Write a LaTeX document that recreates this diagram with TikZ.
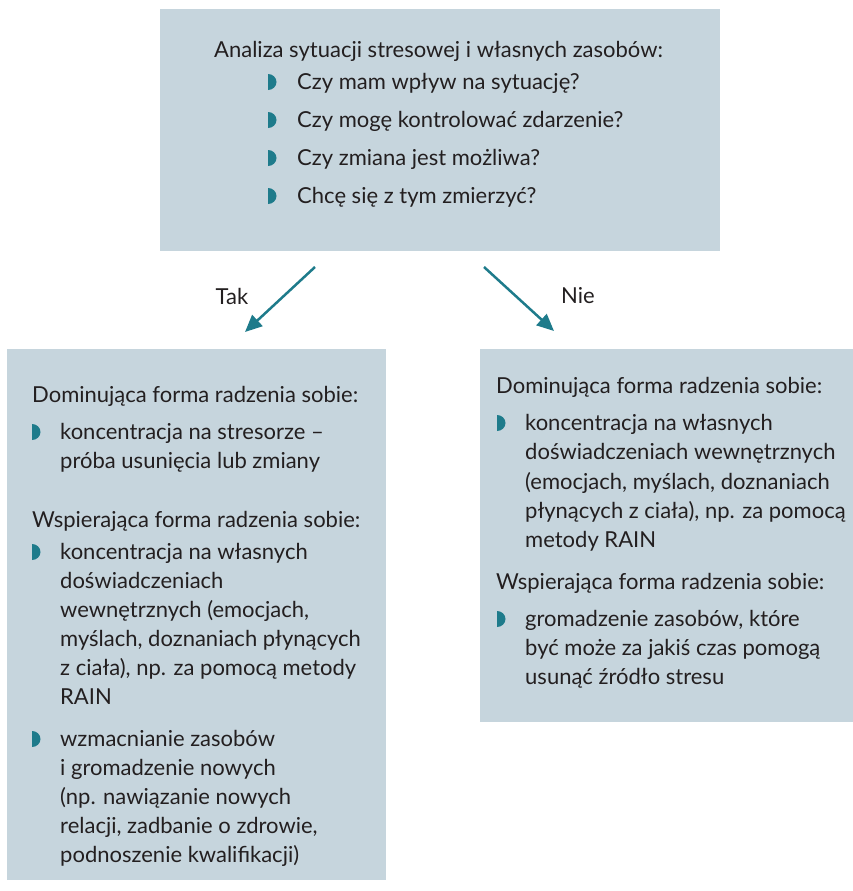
\documentclass[tikz,border=0pt]{standalone}
\usepackage{fontspec}
\setmainfont{Lato}
\usetikzlibrary{arrows.meta}
\definecolor{boxfill}{HTML}{C6D5DD}
\definecolor{tealc}{HTML}{1E7B8B}
\definecolor{txt}{HTML}{231F20}
\begin{document}
\begin{tikzpicture}[x=1pt,y=-1pt,
  box/.style={fill=boxfill, draw=none, inner sep=0, anchor=north west},
  ln/.style={anchor=base west, inner sep=0, font=\fontsize{22}{26}\selectfont, text=txt},
  lbl/.style={inner sep=0, font=\fontsize{22}{26}\selectfont, text=txt},
  conn/.style={draw=tealc, line width=2.5pt, -{Triangle[length=17pt,width=15pt]}},
  dbullet/.pic={\fill[tealc] (0,-8) -- (0,8) arc[start angle=90,end angle=-90,x radius=8.5,y radius=8] -- cycle;}]
\useasboundingbox (0,0) rectangle (853,891);
% boxes
\node[box, minimum width=560pt, minimum height=242pt] (top) at (160,9) {};
\node[box, minimum width=379pt, minimum height=531pt] (left) at (7,349) {};
\node[box, minimum width=373pt, minimum height=373pt] (right) at (480,349) {};
% connectors
\coordinate (ta) at (315,267);
\coordinate (tb) at (245,332);
\coordinate (na) at (484,267);
\coordinate (nb) at (554,331);
\draw[conn] (ta) -- (tb);
\draw[conn] (na) -- (nb);
\node[lbl] (tak) at (232,296) {Tak};
\node[lbl] (nie) at (578,296) {Nie};
% top box text
\node[ln] (h0) at (214,58) {Analiza sytuacji stresowej i własnych zasobów:};
\foreach \yy/\tt [count=\i] in {89/{Czy mam wpływ na sytuację?},127/{Czy mogę kontrolować zdarzenie?},165/{Czy zmiana jest możliwa?},203/{Chcę się z tym zmierzyć?}}{
  \pic at (268,\yy-7) {dbullet};
  \node[ln] (q\i) at (297,\yy) {\tt};
}
% left box text
\node[ln] (lh1) at (32,402) {Dominująca forma radzenia sobie:};
\node[ln] (lh2) at (32,527) {Wspierająca forma radzenia sobie:};
\foreach \yy in {432,552,739}{\pic at (32,\yy) {dbullet};}
\foreach \yy/\tt [count=\i] in {439/{koncentracja na stresorze –},468/{próba usunięcia lub zmiany},
  559/{koncentracja na własnych},588/{doświadczeniach},617/{wewnętrznych (emocjach,},646/{myślach, doznaniach płynących},675/{z ciała), np. za pomocą metody},704/{RAIN},
  746/{wzmacnianie zasobów},775/{i gromadzenie nowych},804/{(np. nawiązanie nowych},833/{relacji, zadbanie o zdrowie,},862/{podnoszenie kwalifikacji)}}{
  \node[ln] (l\i) at (60,\yy) {\tt};
}
% right box text
\node[ln] (rh1) at (496,393) {Dominująca forma radzenia sobie:};
\node[ln] (rh2) at (496,589) {Wspierająca forma radzenia sobie:};
\foreach \yy in {423,619}{\pic at (497,\yy) {dbullet};}
\foreach \yy/\tt [count=\i] in {430/{koncentracja na własnych},459/{doświadczeniach wewnętrznych},489/{(emocjach, myślach, doznaniach},518/{płynących z ciała), np. za pomocą},547/{metody RAIN},
  626/{gromadzenie zasobów, które},655/{być może za jakiś czas pomogą},684/{usunąć źródło stresu}}{
  \node[ln] (r\i) at (525,\yy) {\tt};
}
\end{tikzpicture}
\end{document}
